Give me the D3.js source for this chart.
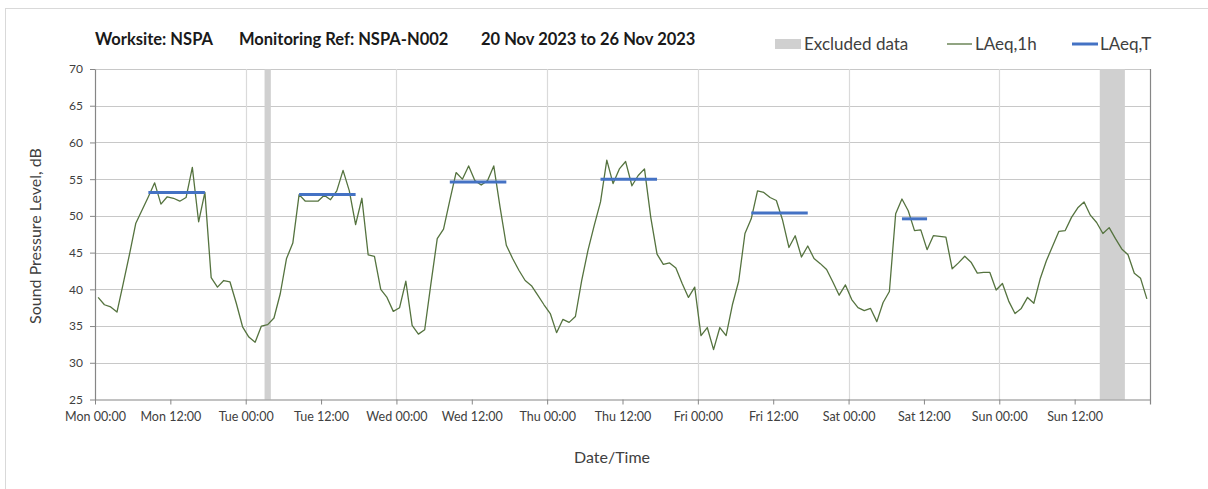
<!DOCTYPE html>
<html>
<head>
<meta charset="utf-8">
<script src="https://cdn.jsdelivr.net/npm/d3@7"></script>
<style>
  html, body { margin: 0; padding: 0; background: #fff; }
  svg { display: block; font-family: Lato, "Open Sans", sans-serif; }
</style>
</head>
<body>
<svg id="chart" width="1208" height="489"></svg>
<script>
// Monitoring period
const periodStart = "2023-11-20T00:00:00Z";
const periodEnd = "2023-11-27T00:00:00Z";

// Hourly LAeq,1h values (dB), one per hour from Mon 00:00
const laeq1h = [
  38.9, 37.9, 37.6, 36.9, 40.8, 44.8, 49.0, 50.8, 52.6, 54.5, 51.6, 52.6,
  52.4, 52.0, 52.5, 56.6, 49.2, 53.2, 41.6, 40.3, 41.2, 41.0, 38.1, 34.9,
  33.5, 32.8, 35.0, 35.2, 36.1, 39.4, 44.2, 46.3, 52.9, 52.0, 52.0, 52.0,
  52.8, 52.2, 53.4, 56.2, 53.4, 48.8, 52.4, 44.7, 44.5, 40.0, 38.9, 37.0,
  37.5, 41.1, 35.1, 33.9, 34.5, 40.8, 46.9, 48.2, 52.1, 55.9, 55.0, 56.8,
  54.8, 54.2, 54.8, 56.8, 51.2, 46.0, 44.2, 42.6, 41.2, 40.5, 39.2, 37.9,
  36.7, 34.1, 35.9, 35.5, 36.3, 41.2, 45.3, 48.7, 51.9, 57.6, 54.4, 56.4,
  57.4, 54.1, 55.5, 56.4, 49.8, 44.8, 43.4, 43.6, 42.9, 40.8, 38.9, 40.3,
  33.7, 34.8, 31.8, 34.8, 33.7, 37.9, 41.1, 47.6, 49.6, 53.4, 53.2, 52.5,
  52.1, 49.4, 45.7, 47.3, 44.4, 45.9, 44.2, 43.5, 42.7, 41.0, 39.2, 40.6,
  38.6, 37.5, 37.1, 37.4, 35.6, 38.2, 39.7, 50.3, 52.3, 50.7, 48.0, 48.1,
  45.4, 47.3, 47.2, 47.1, 42.8, 43.6, 44.5, 43.7, 42.2, 42.3, 42.3, 39.9,
  40.8, 38.4, 36.7, 37.4, 38.9, 38.1, 41.4, 43.9, 45.9, 47.9, 48.0, 49.8,
  51.1, 51.9, 50.1, 49.1, 47.6, 48.4, 46.9, 45.5, 44.7, 42.2, 41.5, 38.7
];

// Working-period LAeq,T
const tStart = ["2023-11-20T08:00:00Z", "2023-11-21T08:00:00Z", "2023-11-22T08:00:00Z",
                "2023-11-23T08:00:00Z", "2023-11-24T08:00:00Z", "2023-11-25T08:00:00Z"];
const tEnd   = ["2023-11-20T18:00:00Z", "2023-11-21T18:00:00Z", "2023-11-22T18:00:00Z",
                "2023-11-23T18:00:00Z", "2023-11-24T18:00:00Z", "2023-11-25T13:00:00Z"];
const tValue = [53.2, 52.9, 54.6, 55.0, 50.4, 49.6];

// Excluded data windows
const exclStart = ["2023-11-21T03:00:00Z", "2023-11-26T16:00:00Z"];
const exclEnd   = ["2023-11-21T04:00:00Z", "2023-11-26T20:00:00Z"];

// Axis ticks
const yTicks = [25, 30, 35, 40, 45, 50, 55, 60, 65, 70];

const titleParts = ["Worksite: NSPA", "Monitoring Ref: NSPA-N002", "20 Nov 2023 to 26 Nov 2023"];

const HOUR = 3600 * 1000;
const t0 = new Date(periodStart);
const t1 = new Date(periodEnd);

const svg = d3.select("#chart");
const margin = { left: 95, right: 1150, top: 69, bottom: 399.5 };

const x = d3.scaleUtc().domain([t0, t1]).range([margin.left, margin.right]);
const y = d3.scaleLinear().domain([25, 70]).range([margin.bottom, margin.top]);

// outer frame
svg.append("rect")
  .attr("x", 5.5).attr("y", 8.5).attr("width", 1300).attr("height", 600)
  .attr("fill", "none").attr("stroke", "#d9d9d9").attr("stroke-width", 1);

// horizontal gridlines
svg.append("g").selectAll("line")
  .data(yTicks.filter(v => v > 25))
  .join("line")
  .attr("x1", margin.left).attr("x2", margin.right)
  .attr("y1", d => Math.round(y(d)) + 0.5).attr("y2", d => Math.round(y(d)) + 0.5)
  .attr("stroke", "#c8c8c8").attr("stroke-width", 1.2);

// vertical gridlines at midnight
const midnights = d3.utcDay.range(d3.utcDay.offset(t0, 1), t1);
svg.append("g").selectAll("line")
  .data(midnights)
  .join("line")
  .attr("x1", d => Math.round(x(d)) + 0.5).attr("x2", d => Math.round(x(d)) + 0.5)
  .attr("y1", margin.top).attr("y2", margin.bottom)
  .attr("stroke", "#dadada").attr("stroke-width", 1.2);

// excluded windows
svg.append("g").selectAll("rect")
  .data(exclStart.map((s, i) => [new Date(s), new Date(exclEnd[i])]))
  .join("rect")
  .attr("x", d => x(d[0])).attr("width", d => x(d[1]) - x(d[0]))
  .attr("y", margin.top).attr("height", margin.bottom - margin.top)
  .attr("fill", "#d0d0d0");

// hourly series, plotted at the middle of each hour
const points = laeq1h.map((v, i) => ({ t: new Date(t0.getTime() + (i + 0.5) * HOUR), v }));
svg.append("path")
  .datum(points)
  .attr("fill", "none")
  .attr("stroke", "#55733f")
  .attr("stroke-width", 1.3)
  .attr("stroke-linejoin", "round")
  .attr("d", d3.line().x(d => x(d.t)).y(d => y(d.v)));

// LAeq,T bars spanning first to last hourly sample of each period
svg.append("g").selectAll("line")
  .data(tValue.map((v, i) => ({
    a: new Date(new Date(tStart[i]).getTime() + 0.5 * HOUR),
    b: new Date(new Date(tEnd[i]).getTime() - 0.5 * HOUR),
    v
  })))
  .join("line")
  .attr("x1", d => x(d.a)).attr("x2", d => x(d.b))
  .attr("y1", d => y(d.v)).attr("y2", d => y(d.v))
  .attr("stroke", "#4472c4").attr("stroke-width", 3);

// axes
const axisColor = "#868686";
const xTickVals = d3.utcHour.every(12).range(t0, t1);
const fmt = d3.utcFormat("%a %H:%M");

const gx = svg.append("g").attr("transform", `translate(0,${margin.bottom})`)
  .call(d3.axisBottom(x).tickValues(xTickVals).tickFormat(fmt).tickSize(5).tickSizeOuter(0));
gx.select(".domain").attr("stroke", axisColor).attr("stroke-width", 1.2);
gx.selectAll(".tick line").attr("stroke", axisColor);
gx.selectAll(".tick text")
  .attr("fill", "#404040").attr("font-size", 12.5).attr("dy", "1.05em")
  .attr("font-family", "Lato, sans-serif");

const gy = svg.append("g").attr("transform", `translate(${margin.left},0)`)
  .call(d3.axisLeft(y).tickValues(yTicks).tickSize(5).tickSizeOuter(0).tickPadding(7));
gy.select(".domain").attr("stroke", axisColor).attr("stroke-width", 1.2);
gy.selectAll(".tick line").attr("stroke", axisColor);
gy.selectAll(".tick text")
  .attr("fill", "#404040").attr("font-size", 12)
  .attr("font-family", "Lato, sans-serif");

// right border with end tick
svg.append("line")
  .attr("x1", margin.right + 0.5).attr("x2", margin.right + 0.5)
  .attr("y1", margin.top).attr("y2", margin.bottom + 5)
  .attr("stroke", axisColor).attr("stroke-width", 1.2);

// axis titles
svg.append("text")
  .attr("x", 612).attr("y", 463)
  .attr("text-anchor", "middle").attr("font-size", 16).attr("fill", "#404040")
  .text("Date/Time");

svg.append("text")
  .attr("transform", "translate(41,236) rotate(-90)")
  .attr("text-anchor", "middle").attr("font-size", 16).attr("fill", "#404040")
  .text("Sound Pressure Level, dB");

// title
const titleX = [95, 239, 481];
svg.append("g").selectAll("text")
  .data(titleParts)
  .join("text")
  .attr("x", (d, i) => titleX[i]).attr("y", 45)
  .attr("font-size", 16.5).attr("font-weight", "bold").attr("fill", "#1a1a1a")
  .text(d => d);

// legend
const lg = svg.append("g").attr("font-size", 17).attr("fill", "#404040");
lg.append("rect").attr("x", 775).attr("y", 39).attr("width", 26).attr("height", 10).attr("fill", "#d0d0d0");
lg.append("text").attr("x", 804).attr("y", 50).text("Excluded data");
lg.append("line").attr("x1", 947).attr("x2", 972).attr("y1", 44).attr("y2", 44)
  .attr("stroke", "#55733f").attr("stroke-width", 1.3);
lg.append("text").attr("x", 975).attr("y", 50).text("LAeq,1h");
lg.append("line").attr("x1", 1072).attr("x2", 1098).attr("y1", 44).attr("y2", 44)
  .attr("stroke", "#4472c4").attr("stroke-width", 3);
lg.append("text").attr("x", 1100).attr("y", 50).text("LAeq,T");
</script>
</body>
</html>
